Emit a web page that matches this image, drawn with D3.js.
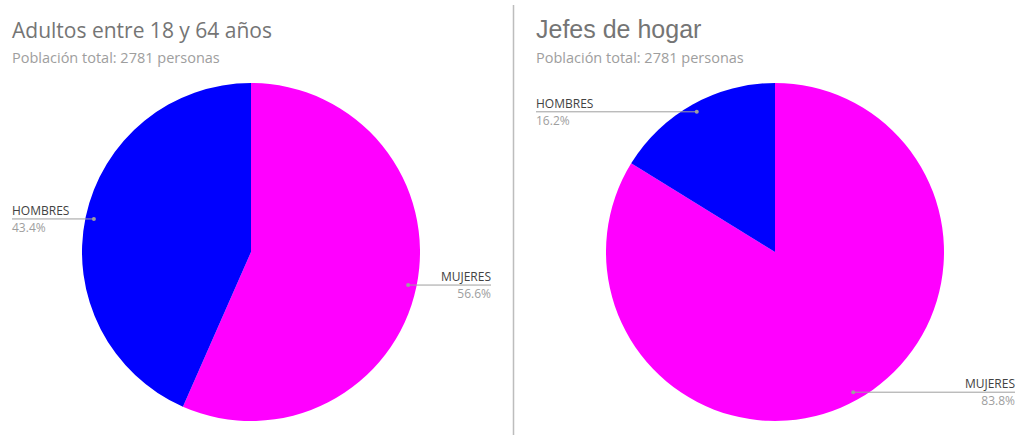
<!DOCTYPE html>
<html>
<head>
<meta charset="utf-8">
<script src="https://cdn.jsdelivr.net/npm/d3@7"></script>
<style>
  body { margin: 0; background: #fff; }
  text { font-family: "Open Sans", sans-serif; }
</style>
</head>
<body>
<script>
// chart data
const categories = ["MUJERES", "HOMBRES"];
const adultosValues = [56.6, 43.4];
const jefesValues = [83.8, 16.2];
const titles = ["Adultos entre 18 y 64 años", "Jefes de hogar"];
const subtitles = ["Población total: 2781 personas", "Población total: 2781 personas"];

const W = 1017, H = 437;
const color = d3.scaleOrdinal().domain(categories).range(["#ff00ff", "#0000ff"]);

const svg = d3.select("body").append("svg")
  .attr("width", W)
  .attr("height", H);

// divider between the two charts
svg.append("line")
  .attr("x1", 513.5).attr("x2", 513.5)
  .attr("y1", 5).attr("y2", 435)
  .attr("stroke", "#bdbdbd")
  .attr("stroke-width", 1.5);

const panels = [
  { values: adultosValues, left: 12, right: 491, cx: 251, titleFont: "Open Sans", titleSize: 21 },
  { values: jefesValues, left: 536, right: 1015, cx: 775, titleFont: "Liberation Sans", titleSize: 25 }
];

const pie = d3.pie().sort(null).value(d => d.value);
const R = 169, CY = 252;
const arc = d3.arc().innerRadius(0).outerRadius(R);
const dotArc = d3.arc().innerRadius(R * 0.95).outerRadius(R * 0.95);

panels.forEach((p, i) => {
  const g = svg.append("g");

  g.append("text")
    .attr("x", p.left).attr("y", 38)
    .style("font-family", p.titleFont)
    .style("font-size", p.titleSize + "px")
    .attr("fill", "#757575")
    .text(titles[i]);

  g.append("text")
    .attr("x", p.left).attr("y", 63)
    .style("font-size", "14.5px")
    .attr("fill", "#9e9e9e")
    .text(subtitles[i]);

  const data = pie(categories.map((c, j) => ({ name: c, value: p.values[j] })));

  const pg = g.append("g").attr("transform", `translate(${p.cx},${CY})`);
  pg.selectAll("path")
    .data(data)
    .join("path")
    .attr("d", arc)
    .attr("fill", d => color(d.data.name));

  // labels with leader lines
  data.forEach(d => {
    const [dx, dy] = dotArc.centroid(d);
    const x = p.cx + dx, y = CY + dy;
    const onLeft = dx < 0;
    const end = onLeft ? p.left : p.right;
    const anchor = onLeft ? "start" : "end";

    g.append("line")
      .attr("x1", x).attr("x2", end)
      .attr("y1", y).attr("y2", y)
      .attr("stroke", "#9e9e9e")
      .attr("stroke-width", 1);
    g.append("circle")
      .attr("cx", x).attr("cy", y).attr("r", 2)
      .attr("fill", "#9e9e9e");
    g.append("text")
      .attr("x", end).attr("y", y - 4)
      .attr("text-anchor", anchor)
      .style("font-size", "12px")
      .attr("fill", "#424242")
      .text(d.data.name);
    g.append("text")
      .attr("x", end).attr("y", y + 13)
      .attr("text-anchor", anchor)
      .style("font-size", "12px")
      .attr("fill", "#9e9e9e")
      .text(d.data.value.toFixed(1) + "%");
  });
});
</script>
</body>
</html>
